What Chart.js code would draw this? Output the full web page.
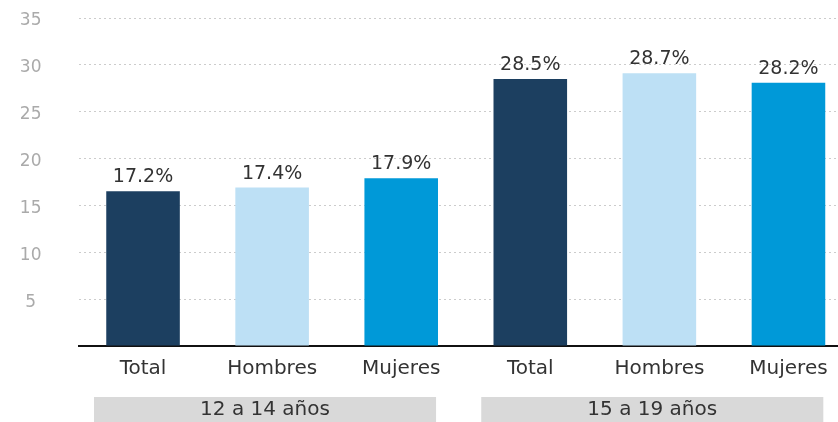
<!DOCTYPE html>
<html>
<head>
<meta charset="utf-8">
<script src="https://cdn.jsdelivr.net/npm/chart.js@4.4.1/dist/chart.umd.min.js"></script>
<style>
  html, body { margin: 0; padding: 0; background: #ffffff; overflow: hidden; width: 838px; height: 422px; }
  #wrap { position: relative; width: 854px; height: 422px; }
  canvas { display: block; }
</style>
</head>
<body>
<div id="wrap"><canvas id="c" width="854" height="422" style="width:854px;height:422px"></canvas></div>
<script>
// ---- data ----
const categories = ["Total", "Hombres", "Mujeres", "Total", "Hombres", "Mujeres"];
const values = [16.5, 16.9, 17.9, 28.5, 29.1, 28.1];
const valueLabels = ["17.2%", "17.4%", "17.9%", "28.5%", "28.7%", "28.2%"];
const groups = ["12 a 14 años", "15 a 19 años"];
const groupSpans = [[0, 2], [3, 5]];
const yTicks = [5, 10, 15, 20, 25, 30, 35];

const barColors = ["#1c3f60", "#bde0f5", "#0099d8", "#1c3f60", "#bde0f5", "#0099d8"];
const FONT = "'DejaVu Sans', sans-serif";

const valueLabelPlugin = {
  id: 'valueLabels',
  afterDatasetsDraw(chart) {
    const ctx = chart.ctx;
    const meta = chart.getDatasetMeta(0);
    ctx.save();
    ctx.font = "19px " + FONT;
    ctx.fillStyle = "#333333";
    ctx.textAlign = "center";
    ctx.textBaseline = "alphabetic";
    meta.data.forEach((bar, i) => {
      ctx.fillText(valueLabels[i], bar.x, bar.y - 9);
    });
    ctx.restore();
  }
};

const groupPlugin = {
  id: 'groups',
  afterDraw(chart) {
    const ctx = chart.ctx;
    const xs = chart.scales.x;
    const w = xs.getPixelForValue(1) - xs.getPixelForValue(0);
    ctx.save();
    groupSpans.forEach((span, g) => {
      const left = xs.getPixelForValue(span[0]) - 0.38 * w;
      const right = xs.getPixelForValue(span[1]) + 0.27 * w;
      ctx.fillStyle = "#d9d9d9";
      ctx.fillRect(left, 397, right - left, 25);
      ctx.fillStyle = "#333333";
      ctx.font = "20px " + FONT;
      ctx.textAlign = "center";
      ctx.textBaseline = "middle";
      ctx.fillText(groups[g], (left + right) / 2, 410);
    });
    ctx.restore();
  }
};

new Chart(document.getElementById('c'), {
  type: 'bar',
  data: {
    labels: categories,
    datasets: [{
      data: values,
      backgroundColor: barColors,
      borderWidth: 0,
      categoryPercentage: 1.0,
      barPercentage: 0.57
    }]
  },
  options: {
    responsive: false,
    animation: false,
    devicePixelRatio: 1,
    layout: { padding: { top: 18, left: 0, right: 1, bottom: 0 } },
    plugins: {
      legend: { display: false },
      tooltip: { enabled: false },
      title: { display: false }
    },
    scales: {
      x: {
        grid: { display: false, drawTicks: false },
        border: { display: true, color: "#111111", width: 2 },
        ticks: {
          font: { family: FONT, size: 20 },
          color: "#333333",
          padding: 11,
          maxRotation: 0,
          autoSkip: false
        },
        afterFit(scale) { scale.height = 76; }
      },
      y: {
        min: 0,
        max: 35,
        afterBuildTicks(scale) {
          scale.ticks = [0].concat(yTicks).map(v => ({ value: v }));
        },
        grid: {
          drawTicks: false,
          color: (c) => c.tick && c.tick.value === 0 ? 'rgba(0,0,0,0)' : '#cccccc',
          lineWidth: 1
        },
        border: { display: false, dash: [2, 3] },
        ticks: {
          font: { family: FONT, size: 17 },
          color: "#aaaaaa",
          crossAlign: 'center',
          padding: 37,
          labelOffset: 3,
          callback: (v) => v === 0 ? '' : String(v)
        },
        afterFit(scale) {
          scale.width = 78.5;
          scale.paddingTop = 0;
          scale.paddingBottom = 0;
        }
      }
    }
  },
  plugins: [valueLabelPlugin, groupPlugin]
});
</script>
</body>
</html>
